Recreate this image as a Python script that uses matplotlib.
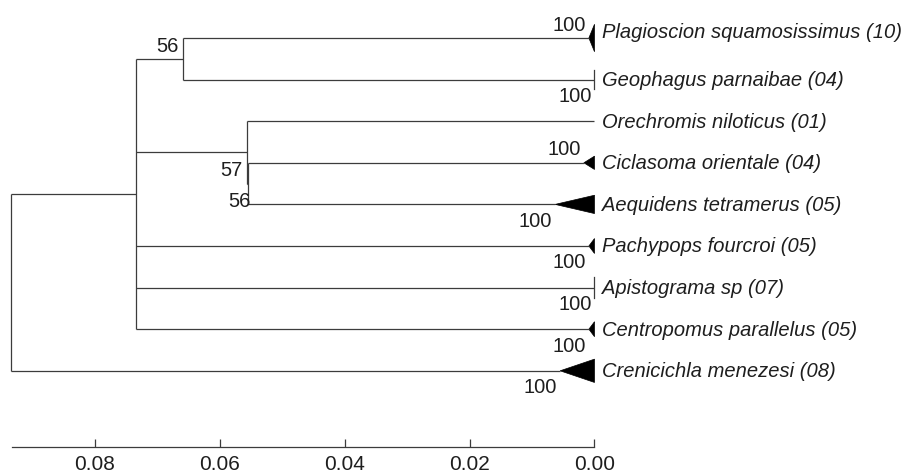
import matplotlib.pyplot as plt
from matplotlib.patches import Polygon

plt.rcParams['font.family'] = ['Liberation Sans', 'DejaVu Sans']

# tips, top to bottom
taxa = ['Plagioscion squamosissimus (10)', 'Geophagus parnaibae (04)',
        'Orechromis niloticus (01)', 'Ciclasoma orientale (04)',
        'Aequidens tetramerus (05)', 'Pachypops fourcroi (05)',
        'Apistograma sp (07)', 'Centropomus parallelus (05)',
        'Crenicichla menezesi (08)']
# depth of each collapsed clade (distance of apex from tips)
clade_depth = [0.0009, 0.0, 0.0, 0.0017, 0.0063, 0.0009, 0.0, 0.0009, 0.0055]
# half height of the collapsed clade, in rows
clade_half = [0.33, 0.23, 0.0, 0.16, 0.22, 0.18, 0.26, 0.18, 0.28]
tip_boot = [100, 100, None, 100, 100, 100, 100, 100, 100]
tip_boot_above = [True, False, None, True, False, False, False, False, False]

# internal nodes: name -> (children, distance)
nodes = {
    'n56': (['t0', 't1'], 0.0658),
    'nB': (['t3', 't4'], 0.0554),
    'nA': (['t2', 'nB'], 0.0556),
    'clade': (['n56', 'nA', 't5', 't6', 't7'], 0.0734),
    'root': (['clade', 't8'], 0.0933),
}
node_boot = {'n56': (56, -5, 13), 'nA': (57, -4, -17), 'nB': (56, 2, -17)}

line_col = '#3c3c3c'
txt_col = '#1e1e1e'

fig = plt.figure(figsize=(9.2, 4.77), dpi=100)
ax = fig.add_axes([0, 0, 1, 1])
px = 6250.0
ax.set_xlim(594.5 / px, (594.5 - 920) / px)
ax.set_ylim((477 - 39) / 41.6, -39 / 41.6)
ax.axis('off')

pos = {}
for i in range(len(taxa)):
    pos['t%d' % i] = (clade_depth[i], i)


def place(name):
    if name in pos:
        return pos[name]
    kids, d = nodes[name]
    ys = [place(k)[1] for k in kids]
    pos[name] = (d, (min(ys) + max(ys)) / 2)
    return pos[name]


place('root')

for name, (kids, d) in nodes.items():
    ys = [pos[k][1] for k in kids]
    ax.plot([d, d], [min(ys), max(ys)], color=line_col, lw=0.9,
            solid_capstyle='butt')
    for k in kids:
        ax.plot([d, pos[k][0]], [pos[k][1], pos[k][1]], color=line_col, lw=0.9,
                solid_capstyle='butt')

for i, name in enumerate(taxa):
    dep = clade_depth[i]
    h = clade_half[i]
    if h > 0 and dep > 0:
        ax.add_patch(Polygon([(dep, i), (0, i - h), (0, i + h)], closed=True,
                             facecolor='black', edgecolor='black', lw=0.5))
    elif h > 0:
        ax.plot([0, 0], [i - h, i + h], color=line_col, lw=0.9)
    dy = 7 if i == 0 else 0
    ax.annotate(name, (0, i), xytext=(8, dy), textcoords='offset pixels',
                ha='left', va='center', fontsize=14.5, style='italic',
                color=txt_col)
    if tip_boot[i] is not None:
        oy = 14 if tip_boot_above[i] else -16
        ax.annotate(str(tip_boot[i]), (dep, i), xytext=(-3, oy),
                    textcoords='offset pixels', ha='right', va='center',
                    fontsize=14.5, color=txt_col)

for name, (val, ox, oy) in node_boot.items():
    ax.annotate(str(val), pos[name], xytext=(ox, oy), textcoords='offset pixels',
                ha='right', va='center', fontsize=14.5, color=txt_col)

# distance scale
root_d = nodes['root'][1]
sc = fig.add_axes([11.5 / 920, 1 - 448 / 477, (594.5 - 11.5) / 920, 0.02])
sc.set_xlim(root_d, 0.0)
sc.set_ylim(0, 1)
for s in ['top', 'left', 'right']:
    sc.spines[s].set_visible(False)
sc.spines['bottom'].set_color(line_col)
sc.spines['bottom'].set_linewidth(0.9)
sc.set_yticks([])
sc.set_xticks([0.08, 0.06, 0.04, 0.02, 0.0])
sc.set_xticklabels(['0.08', '0.06', '0.04', '0.02', '0.00'])
sc.tick_params(axis='x', direction='in', length=6, width=0.9, color=line_col,
               labelsize=15, labelcolor=txt_col, pad=5)
sc.patch.set_visible(False)

fig.savefig('out.png', dpi=100)
